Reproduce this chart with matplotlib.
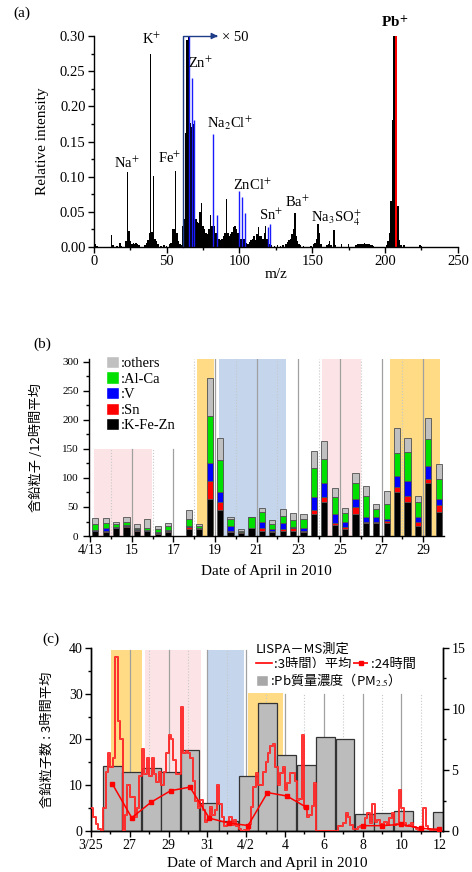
import numpy as np
import matplotlib
matplotlib.use("Agg")
from matplotlib import pyplot as plt
from matplotlib.patches import Patch
from matplotlib.lines import Line2D

SERIF = ['Liberation Serif', 'Noto Sans CJK JP']
GOTHIC = ['Noto Sans CJK JP', 'DejaVu Sans']
plt.rcParams['font.family'] = SERIF
plt.rcParams['mathtext.fontset'] = 'stix'
plt.rcParams['axes.linewidth'] = 1.0

ORANGE = '#fedb84'
PINK = '#fce4e6'
BLUE = '#c4d5ec'

# ---------------- (a) mass spectrum of a Pb particle ----------------
mz_black = [1, 2, 12, 13, 16, 18, 19, 22, 23, 24, 25, 26, 27, 28, 29, 30, 31,
            35, 36, 37, 38, 39, 40, 41, 42, 43, 44, 46, 48, 50, 52, 53, 54, 55,
            56, 57, 58, 59, 60, 61, 62, 63, 64, 65, 66, 67, 68, 69, 70, 71, 72,
            73, 74, 75, 76, 77, 78, 79, 80, 81, 82, 83, 84, 85, 86, 87, 88, 89,
            90, 91, 92, 93, 94, 95, 96, 97, 98, 99, 100, 101, 102, 103, 104,
            105, 106, 107, 108, 109, 110, 111, 112, 113, 114, 115, 116, 117,
            118, 119, 120, 121, 122, 124, 126, 128, 130, 132, 133, 134, 135,
            136, 137, 138, 139, 140, 141, 142, 144, 149, 151, 152, 153, 154,
            155, 156, 160, 161, 162, 163, 165, 166, 170, 175, 180, 181, 182,
            183, 184, 185, 186, 187, 188, 189, 190, 191, 192, 201, 202, 203,
            204, 205, 206, 209, 210, 211, 213, 224, 225]
int_black = [0.004, 0.002, 0.017, 0.003, 0.002, 0.006, 0.002, 0.008, 0.106,
             0.023, 0.008, 0.004, 0.006, 0.005, 0.006, 0.004, 0.003, 0.003,
             0.006, 0.010, 0.020, 0.274, 0.022, 0.101, 0.012, 0.008, 0.004,
             0.002, 0.003, 0.002, 0.004, 0.006, 0.025, 0.026, 0.108, 0.020,
             0.008, 0.004, 0.003, 0.030, 0.040, 0.162, 0.295, 0.300, 0.176,
             0.170, 0.175, 0.050, 0.040, 0.035, 0.034, 0.050, 0.062, 0.030,
             0.025, 0.020, 0.018, 0.025, 0.045, 0.030, 0.020, 0.030, 0.020,
             0.015, 0.012, 0.010, 0.012, 0.015, 0.020, 0.069, 0.020, 0.015,
             0.018, 0.022, 0.028, 0.030, 0.025, 0.020, 0.015, 0.012, 0.010,
             0.012, 0.008, 0.006, 0.005, 0.007, 0.010, 0.012, 0.015, 0.010,
             0.018, 0.028, 0.015, 0.015, 0.012, 0.020, 0.030, 0.012, 0.010,
             0.005, 0.003, 0.002, 0.003, 0.002, 0.003, 0.005, 0.007, 0.010,
             0.012, 0.018, 0.025, 0.048, 0.015, 0.008, 0.005, 0.003, 0.002,
             0.002, 0.004, 0.006, 0.012, 0.033, 0.020, 0.004, 0.003, 0.004,
             0.009, 0.003, 0.024, 0.003, 0.004, 0.005, 0.003, 0.004, 0.004,
             0.005, 0.004, 0.005, 0.006, 0.005, 0.004, 0.004, 0.003, 0.003,
             0.002, 0.003, 0.008, 0.020, 0.065, 0.180, 0.300, 0.058, 0.010,
             0.003, 0.003, 0.003, 0.002]
mz_blue = [65, 67.5, 69, 82, 84.5, 100, 102, 104, 119.5, 121]
int_blue = [0.30, 0.24, 0.18, 0.16, 0.046, 0.08, 0.071, 0.048, 0.028, 0.033]
mz_pb = [207, 208]
int_pb = [0.30, 0.30]

ion_labels = ['Na$^{+}$', 'K$^{+}$', 'Fe$^{+}$', 'Zn$^{+}$', 'Na$_2$Cl$^{+}$',
              'ZnCl$^{+}$', 'Sn$^{+}$', 'Ba$^{+}$', 'Na$_3$SO$_4^{+}$']
ion_x = [22.7, 39.6, 52.2, 73.5, 93, 109, 122, 140, 166.7]
ion_y = [0.119, 0.295, 0.126, 0.261, 0.176, 0.088, 0.0455, 0.0635, 0.041]

# ---------------- (b) Pb-containing particles, 12 h mean ----------------
day_b = np.arange(13.25, 30.0, 0.5)
kfezn = [9, 7.5, 14, 15, 9, 9, 3.4, 7, 0, 12, 11.5, 64, 44, 7, 5.7, 14, 8.6,
         7.5, 9.2, 9.2, 7.5, 38, 58, 19, 12, 38, 22, 22, 22, 76, 59, 17, 91, 41]
sn = [0.5, 1, 0.5, 2, 1, 0.5, 2.5, 1, 0, 4, 1.5, 30.5, 14, 2.3, 0.5, 0, 4.6,
      1, 3.4, 4, 1, 7, 10, 4, 4, 12.7, 2.9, 2.9, 4, 9, 10, 7.5, 7, 12.6]
v = [1, 5.5, 1.5, 2, 1.5, 0.5, 1, 2.3, 0, 2, 1, 32, 18.5, 8.6, 0.5, 0.5, 11.5,
     3, 10.4, 2.8, 5.9, 23, 24, 14.4, 7.6, 12.4, 8.6, 8.6, 3, 18.4, 25.5, 8.6,
     21.8, 9.8]
alca = [9.5, 9, 4.5, 5.7, 1.7, 4.4, 4.6, 7, 0, 10.7, 2.5, 80, 54.6, 10.9, 2.5,
        17.7, 16, 8.5, 12, 11.6, 14.3, 49, 41, 29.3, 15.4, 27.8, 36.2, 13.2,
        26, 39, 50.6, 26, 47, 35]
others = [10.5, 7.5, 4, 7.3, 7.5, 14.3, 6.3, 5.7, 0, 16, 4, 66.6, 37.4, 4.6,
          2.3, 0.5, 7, 7.6, 11, 11.4, 9.3, 30.3, 31, 15.5, 8.7, 18.2, 16.5,
          8.5, 23, 43, 23, 10.4, 36, 25.3]
groups_b = [kfezn, sn, v, alca, others]
group_names = [':K-Fe-Zn', ':Sn', ':V', ':Al-Ca', ':others']
group_colors = ['#000000', '#ff0000', '#0000ff', '#00e000', '#c0c0c0']

spans_b = [(13.2, 15.98, 150, PINK), (18.16, 18.97, None, ORANGE),
           (19.17, 22.42, None, BLUE), (24.14, 26.03, None, PINK),
           (27.42, 29.83, None, ORANGE)]
ticks_b = [13, 15, 17, 19, 21, 23, 25, 27, 29]
ticklabels_b = ['4/13', '15', '17', '19', '21', '23', '25', '27', '29']

# ---------------- (c) 3 h / 24 h counts and Pb mass ----------------
pb_day = np.arange(1.1, 18.2, 1.0)
pb_mass = [5.36, 4.8, 5.2, 4.87, 6.6, 2.32, 0.82, 4.54, 10.5, 6.2, 5.4, 7.7,
           7.5, 1.4, 1.5, 1.67, np.nan, 1.58]

count_3h = [5.1, 3.1, 1.5, 0.5, 0, 5.0, 13, 17,
            14, 16, 38, 24, 20, 0, 3.5, 10,
            7.5, 7.5, 3, 5, 12, 18, 12.5, 16,
            12, 16, 12.5, 10.8, 13, 10, 13, 17,
            21, 20, 15.5, 12.5, 12.5, 27, 17, 17.5,
            17, 16, 11, 6.5, 5, 6.8, 4.6, 2,
            2.4, 5.3, 3.5, 4.5, 10, 6, 3, 1,
            1.3, 3.1, 1.3, 2.4, 1, 0.5, 0, 0.3,
            0.3, 1.5, 5.3, 9.7, 12.6, 10, 10, 13,
            15, 17, 18.5, 19, 14, 10, 12.6, 14,
            9, 10.4, 12.6, 12.6, 11, 6.8, 7, 21,
            5, 3.1, 3.5, 5.5, 10.5, 0, 0, 0,
            0, 0, 0, 0, 0, 0, 1, 1,
            1.7, 4, 3, 1.3, 0.5, 0.5, 0.8, 1.2,
            1.2, 2.8, 3.9, 1.7, 6, 2, 2.5, 1.5,
            1.5, 2, 1.3, 2.8, 3.9, 1.3, 1.5, 9,
            5, 1.7, 1, 1.3, 1.7, 0.8, 0.5, 0.3,
            0.5, 5, 1.2, 0.5, 0.2, 0.2, 0.2, 0.2]
day_24h = [1.1, 2.1, 3.1, 4.1, 5.1, 6.1, 7.1, 8.1, 9.1, 10.1, 11.1, 12.5,
           14.0, 15.0, 16.0, 17.0, 17.95]
count_24h = [10.3, 2.9, 6.3, 8.8, 9.6, 2.8, 1.75, 1.2, 8.4, 7.65, 5.2, np.nan,
             1.17, 1.17, 1.46, 0.58, 0.36]

spans_c = [(1.05, 2.62, 39.6, ORANGE), (2.8, 5.68, 39.6, PINK),
           (6.03, 7.89, 39.6, BLUE), (8.1, 9.92, 30.1, ORANGE)]
ticks_c = [0, 2, 4, 6, 8, 10, 12, 14, 16, 18]
ticklabels_c = ['3/25', '27', '29', '31', '4/2', '4', '6', '8', '10', '12']


fig = plt.figure(figsize=(4.72, 8.72), dpi=100)

# ======== (a) ========
ax_a = fig.add_axes([0.199, 0.7167, 0.771, 0.242])
ax_a.bar(mz_black, int_black, width=1.0, color='black', linewidth=0)
ax_a.vlines(mz_blue, 0, int_blue, color='#1a1aff', lw=1.0)
ax_a.bar(mz_pb, int_pb, width=1.0, color='#ff0000', linewidth=0)
for lab, x, y in zip(ion_labels, ion_x, ion_y):
    ax_a.text(x, y, lab, ha='center', va='center', fontsize=10.5)
ax_a.text(206.5, 0.319, 'Pb$^{\\mathbf{+}}$', ha='center', va='center',
          fontsize=11, fontweight='bold')
# x50 bracket
ax_a.plot([61.2, 61.2, 84], [0, 0.30, 0.30], color='#1f3c88', lw=1.0,
          clip_on=False)
ax_a.annotate('', xy=(87, 0.30), xytext=(82, 0.30),
              arrowprops=dict(arrowstyle='-|>', color='#1f3c88', lw=1.0,
                              mutation_scale=9), annotation_clip=False)
ax_a.text(88, 0.298, '× 50', ha='left', va='center', fontsize=10.5)
ax_a.set_xlim(0, 250)
ax_a.set_ylim(0, 0.30)
ax_a.set_xticks(np.arange(0, 251, 50))
ax_a.set_xticks(np.arange(25, 250, 50), minor=True)
ax_a.set_yticks(np.arange(0, 0.301, 0.05))
ax_a.set_yticks(np.arange(0.025, 0.30, 0.05), minor=True)
ax_a.set_yticklabels(['%.2f' % t for t in np.arange(0, 0.301, 0.05)])
ax_a.tick_params(labelsize=10.5, length=4, width=1, pad=2)
ax_a.tick_params(which='minor', length=2.5, width=1)
ax_a.spines['top'].set_visible(False)
ax_a.spines['right'].set_visible(False)
ax_a.set_xlabel('m/z', fontsize=11, labelpad=0)
ax_a.set_ylabel('Relative intensity', fontsize=11, labelpad=8)
fig.text(0.028, 0.985, '(a)', fontsize=11, va='center')

# ======== (b) ========
ax_b = fig.add_axes([0.1886, 0.3853, 0.752, 0.203])
ylim_b = 305
for x0, x1, top, col in spans_b:
    frac = 1.0 if top is None else top / ylim_b
    ax_b.axvspan(x0, x1, ymin=0, ymax=frac, color=col, lw=0, zorder=0)
for d in range(14, 30):
    frac = 150 / ylim_b if d <= 17 else 1.0
    if d % 2 == 1:
        ax_b.axvline(d, 0, frac, color='#a0a0a0', lw=0.9, zorder=1)
    else:
        ax_b.axvline(d, 0, frac, color='#c8c8c8', lw=0.8, ls=':', zorder=1)
bottom = np.zeros(len(day_b))
bar_handles = []
for vals, name, col in zip(groups_b, group_names, group_colors):
    ax_b.bar(day_b, vals, bottom=bottom, width=0.3, color=col,
             edgecolor='#505050', linewidth=0.6, zorder=3)
    bottom += np.array(vals)
    bar_handles.append(Patch(facecolor=col, edgecolor='white', label=name))
ax_b.set_xlim(12.95, 30.0)
ax_b.set_ylim(0, ylim_b)
ax_b.set_yticks(np.arange(0, 301, 50))
ax_b.set_yticks(np.arange(25, 300, 50), minor=True)
ax_b.set_xticks(ticks_b)
ax_b.set_xticklabels(ticklabels_b)
ax_b.set_xticks(np.arange(14, 30, 2), minor=True)
ax_b.tick_params(axis='y', labelsize=8, length=4, width=1)
ax_b.tick_params(axis='x', labelsize=10, length=4, width=1, pad=2)
ax_b.tick_params(which='minor', length=2.5, width=1)
ax_b.spines['top'].set_visible(False)
ax_b.spines['right'].set_visible(False)
leg_b = ax_b.legend(handles=bar_handles[::-1], loc='upper left',
                    bbox_to_anchor=(0.02, 1.075), fontsize=10.5,
                    handlelength=0.9, handleheight=0.9, handletextpad=0.1,
                    labelspacing=0.1, borderpad=0.2, frameon=True,
                    facecolor='white', edgecolor='none', framealpha=1)
ax_b.set_xlabel('Date of April in 2010', fontsize=11, labelpad=5)
ax_b.set_ylabel('含鉛粒子 /12時間平均', family=GOTHIC, fontsize=9.5,
                labelpad=14)
fig.text(0.07, 0.605, '(b)', fontsize=11, va='center')

# ======== (c) ========
ax_c2 = fig.add_axes([0.1928, 0.047, 0.7458, 0.2099])
ax_c = ax_c2.twinx()
ax_c.yaxis.set_label_position('left')
ax_c.yaxis.tick_left()
ax_c2.yaxis.set_label_position('right')
ax_c2.yaxis.tick_right()
ax_c.set_zorder(ax_c2.get_zorder() + 1)
ax_c.patch.set_visible(False)

for x0, x1, top, col in spans_c:
    ax_c2.axvspan(x0, x1, ymin=0, ymax=top / 40, color=col, lw=0, zorder=0)
for d in range(2, 18):
    frac = 39.6 / 40 if d <= 8 else 30 / 40
    if d % 2 == 0:
        ax_c2.axvline(d, 0, frac, color='#a0a0a0', lw=0.9, zorder=1)
    else:
        ax_c2.axvline(d, 0, frac, color='#c8c8c8', lw=0.8, ls=':', zorder=1)
bars_c = ax_c2.bar(pb_day, pb_mass, width=0.97, color='#bcbcbc',
                   edgecolor='#333333', linewidth=0.9, zorder=2)
ax_c2.set_ylim(0, 15)
ax_c2.set_yticks([0, 5, 10, 15])
ax_c2.set_yticks([2.5, 7.5, 12.5], minor=True)

t3 = np.arange(len(count_3h) + 1) / 8.0
y3 = list(count_3h) + [count_3h[-1]]
ax_c.step(t3, y3, where='post', color='#ff0000', lw=1.3, zorder=3)
ax_c.step(t3, y3, where='post', color='#ff9090', lw=0.35, zorder=3)
ax_c.plot(day_24h, count_24h, color='#ff0000', lw=1.1, marker='s',
          markersize=3.5, zorder=4)
ax_c.set_ylim(0, 40)
ax_c.set_xlim(0, 18.15)
ax_c.set_yticks([0, 10, 20, 30, 40])
ax_c.set_yticks([5, 15, 25, 35], minor=True)
ax_c2.set_xticks(ticks_c)
ax_c2.set_xticklabels(ticklabels_c)
ax_c2.set_xticks(np.arange(1, 18, 2), minor=True)
for a in (ax_c, ax_c2):
    a.tick_params(labelsize=10, length=4, width=1, pad=2)
    a.tick_params(which='minor', length=2.5, width=1)
    a.spines['top'].set_visible(False)
ax_c2.set_xlabel('Date of March and April in 2010', fontsize=11, labelpad=3)
ax_c.set_ylabel('含鉛粒子数 : 3時間平均', family=GOTHIC, fontsize=9.5,
                labelpad=11)

h3 = Line2D([], [], color='#ff0000', lw=1.2)
h24 = Line2D([], [], color='#ff0000', lw=1.2, ls='--', marker='s',
             markersize=3)
leg1 = ax_c.legend([h3, h24], [':3時間）平均', ':24時間'], ncol=2,
                   title='LISPA－MS測定', loc='upper left',
                   bbox_to_anchor=(0.44, 1.08), alignment='left',
                   prop={'family': GOTHIC, 'size': 9.5},
                   title_fontproperties={'family': GOTHIC, 'size': 9.5},
                   handlelength=1.2, handletextpad=0.2, columnspacing=0.1,
                   borderpad=0.25, labelspacing=0.1, frameon=True,
                   facecolor='white', edgecolor='none', framealpha=1)
ax_c.add_artist(leg1)
ax_c.legend([Patch(facecolor='#a8a8a8', edgecolor='white')],
            [':Pb質量濃度（PM$_{2.5}$）'], loc='upper left',
            bbox_to_anchor=(0.44, 0.925), prop={'family': GOTHIC, 'size': 9.5},
            handlelength=0.9, handleheight=0.9, handletextpad=0.2,
            borderpad=0.25, frameon=True, facecolor='white',
            edgecolor='none', framealpha=1)
fig.text(0.089, 0.267, '(c)', fontsize=11, va='center')

fig.savefig('out.png', dpi=100)
